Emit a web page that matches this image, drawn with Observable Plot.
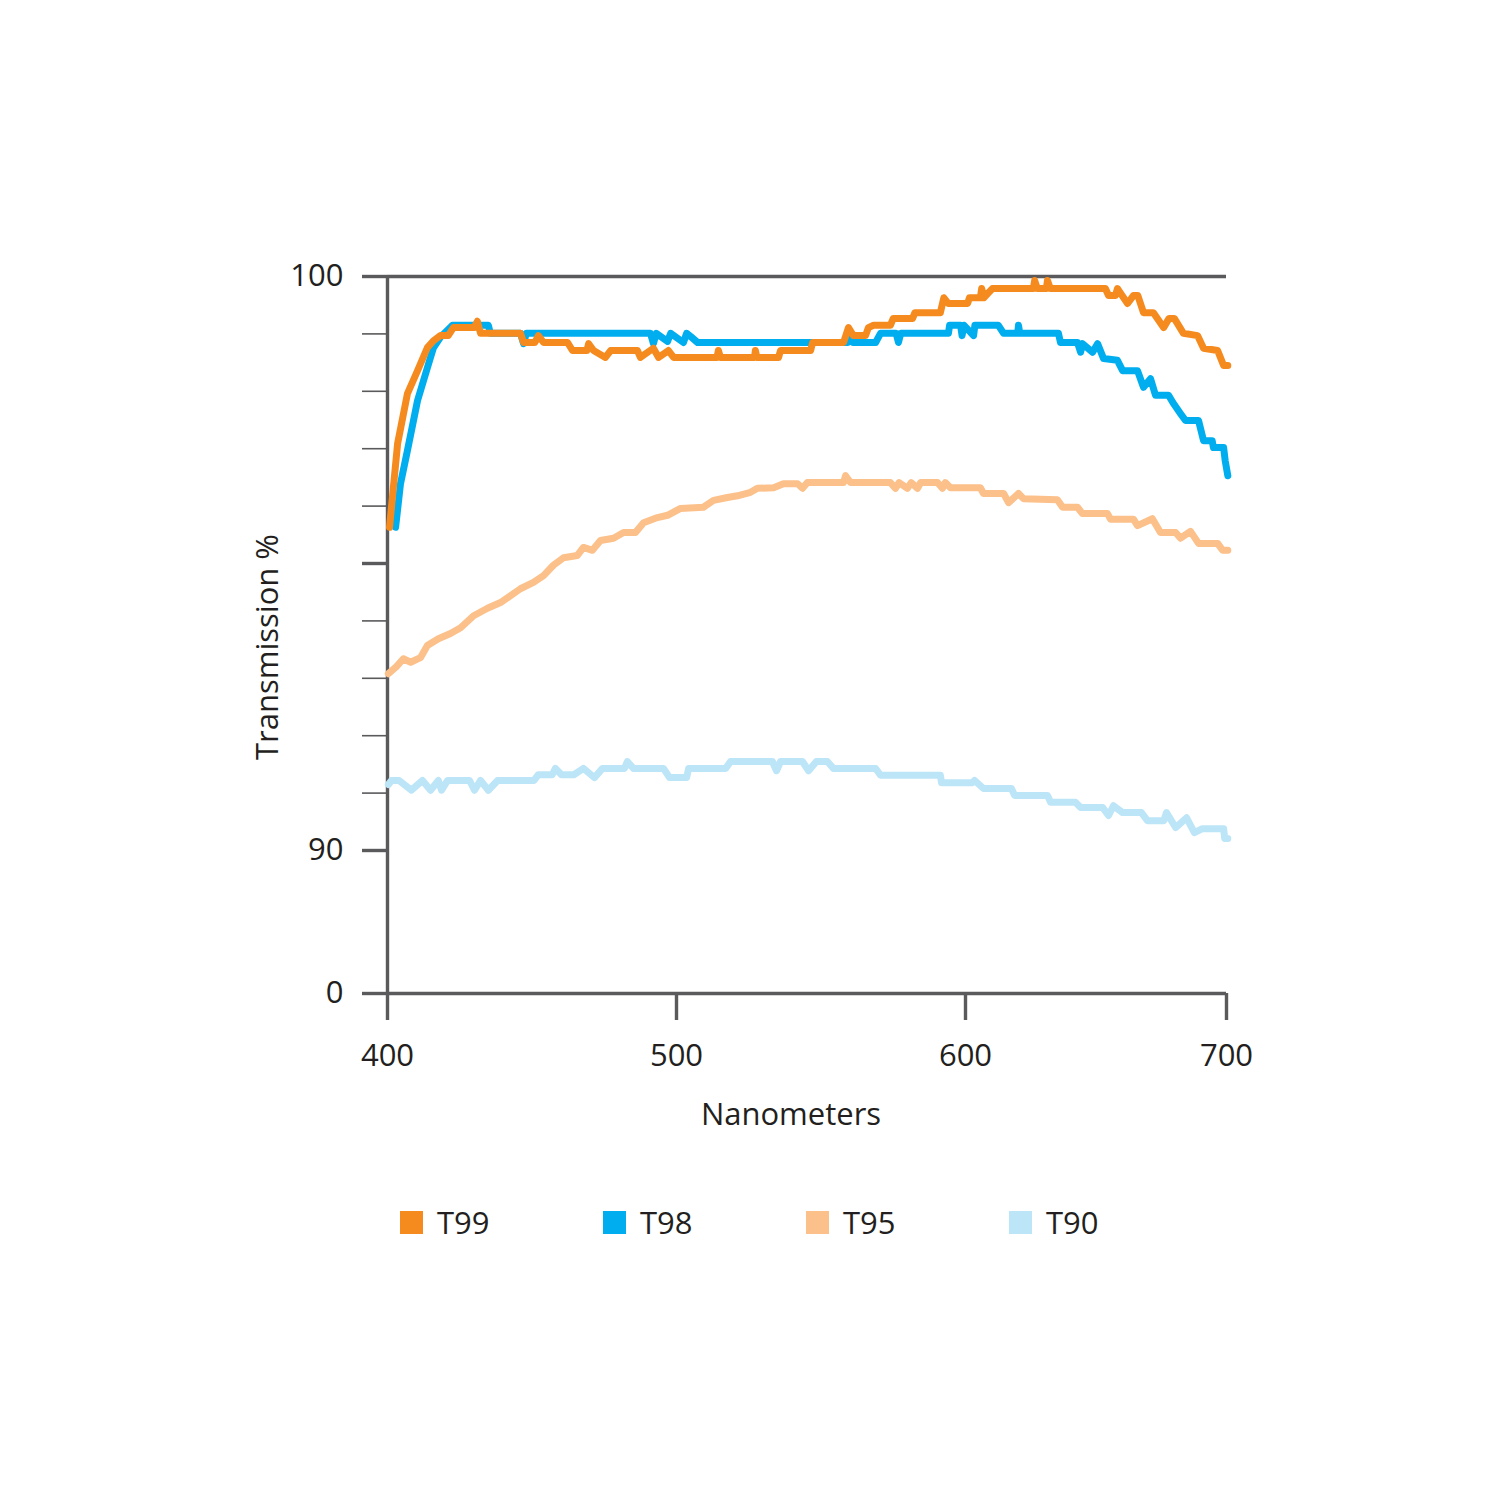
<!DOCTYPE html>
<html>
<head>
<meta charset="utf-8">
<script src="https://cdn.jsdelivr.net/npm/d3@7"></script>
<script src="https://cdn.jsdelivr.net/npm/@observablehq/plot@0.6"></script>
<style>
  html, body { margin: 0; padding: 0; background: #fff; }
  #chart svg { display: block; }
  #legend { display: flex; padding-left: 400px; height: 40px; align-items: center;
    font-family: "Open Sans", sans-serif; font-size: 31px; color: #231f20; }
  #legend .item { width: 203px; display: flex; align-items: center; }
  #legend .sw { width: 23px; height: 23px; margin-right: 14px; }
</style>
</head>
<body>
<div id="chart"></div>
<div id="legend"></div>
<script>
// ---- data (wavelength nm, transmission %) ----
const seriesNames = ["T99", "T98", "T95", "T90"];
const seriesColors = ["#f58b1f", "#00aeef", "#fcc08a", "#bde5f8"];

const t99 = [[400.7,95.63],[403.5,97.09],[406.9,97.96],[410.4,98.36],[413.8,98.76],[415.9,98.88],[418.3,98.97],[421.0,98.97],[422.8,99.11],[430.0,99.11],[431.1,99.22],[432.2,99.01],[446.0,99.01],[447.1,98.85],[451.0,98.85],[452.2,98.97],[454.0,98.85],[462.3,98.85],[464.0,98.71],[469.0,98.71],[469.6,98.83],[471.3,98.71],[475.4,98.59],[477.2,98.71],[486.5,98.71],[487.5,98.59],[492.0,98.75],[493.8,98.59],[497.2,98.71],[499.0,98.59],[514.0,98.59],[514.5,98.71],[515.2,98.59],[527.0,98.59],[527.3,98.71],[527.8,98.59],[535.3,98.59],[536.0,98.71],[546.4,98.71],[547.1,98.85],[557.8,98.85],[559.5,99.11],[561.2,98.97],[565.4,98.97],[566.4,99.11],[568.2,99.15],[574.0,99.15],[575.0,99.27],[581.7,99.27],[582.5,99.37],[591.3,99.37],[592.5,99.63],[594.0,99.53],[600.8,99.53],[601.5,99.63],[605.7,99.63],[606.2,99.79],[607.0,99.63],[610.3,99.79],[626.0,99.79],[626.5,99.93],[627.5,99.79],[631.0,99.79],[631.4,99.93],[632.5,99.79],[653.6,99.79],[654.8,99.67],[657.5,99.67],[658.2,99.79],[660.0,99.67],[662.1,99.53],[664.4,99.67],[666.0,99.67],[668.2,99.37],[672.0,99.37],[675.9,99.11],[678.0,99.27],[680.0,99.27],[683.5,99.01],[688.9,98.97],[691.2,98.75],[696.6,98.71],[698.9,98.45],[700.5,98.45]];

const t98 = [[402.8,95.63],[404.5,96.39],[406.9,96.97],[410.4,97.84],[413.8,98.41],[415.9,98.76],[418.3,98.94],[422.5,99.15],[434.9,99.15],[435.6,99.01],[446.0,99.01],[447.1,98.83],[448.0,99.01],[491.0,99.01],[492.0,98.83],[493.0,99.01],[496.9,98.87],[498.0,99.01],[502.4,98.85],[503.5,99.01],[505.0,98.95],[507.3,98.85],[559.2,98.85],[559.5,98.97],[561.0,98.85],[568.9,98.85],[570.6,99.01],[576.0,99.01],[576.8,98.85],[577.6,99.01],[594.1,99.01],[594.5,99.15],[598.3,99.15],[598.8,98.97],[599.5,99.15],[603.1,98.97],[603.6,99.15],[612.6,99.15],[614.6,99.01],[620.0,99.01],[620.3,99.15],[620.8,99.01],[635.6,99.01],[636.4,98.85],[642.9,98.85],[644.1,98.68],[644.8,98.83],[648.7,98.68],[650.6,98.83],[652.9,98.57],[658.2,98.54],[660.2,98.36],[665.9,98.36],[668.2,98.07],[670.9,98.22],[672.8,97.93],[677.8,97.93],[679.5,97.80],[682.4,97.61],[684.3,97.49],[689.3,97.49],[691.2,97.14],[694.5,97.14],[695.0,97.02],[698.9,97.02],[699.5,96.79],[700.5,96.53]];

const t95 = [[400.3,93.08],[403.0,93.20],[405.5,93.34],[408.0,93.28],[411.4,93.36],[413.8,93.57],[417.6,93.69],[421.8,93.78],[425.3,93.88],[429.8,94.09],[434.6,94.22],[439.1,94.32],[442.6,94.44],[446.0,94.56],[450.5,94.67],[454.0,94.79],[457.4,94.97],[460.9,95.10],[465.7,95.14],[467.8,95.28],[470.9,95.23],[473.7,95.40],[478.2,95.44],[481.7,95.54],[485.8,95.54],[488.6,95.71],[493.4,95.80],[496.9,95.84],[501.4,95.96],[509.3,95.98],[512.8,96.10],[517.6,96.15],[521.1,96.18],[525.6,96.24],[528.0,96.31],[533.6,96.32],[537.0,96.39],[541.9,96.39],[543.6,96.31],[545.3,96.41],[557.8,96.41],[558.5,96.53],[560.2,96.41],[574.0,96.41],[575.8,96.31],[577.0,96.41],[579.9,96.31],[581.2,96.41],[583.4,96.31],[584.5,96.41],[590.3,96.41],[592.0,96.31],[593.0,96.41],[594.8,96.32],[605.7,96.32],[606.9,96.22],[614.6,96.22],[616.5,96.06],[620.3,96.22],[622.2,96.13],[635.2,96.11],[637.2,95.98],[642.9,95.98],[644.8,95.87],[654.4,95.87],[655.6,95.77],[664.4,95.77],[665.9,95.66],[671.6,95.78],[674.7,95.54],[680.5,95.54],[682.4,95.44],[686.2,95.56],[689.3,95.35],[696.6,95.35],[698.5,95.23],[700.5,95.23]];

const t90 = [[400.3,91.15],[401.4,91.22],[404.0,91.22],[408.3,91.05],[412.1,91.22],[414.9,91.05],[417.6,91.22],[418.7,91.05],[420.8,91.22],[428.4,91.22],[430.1,91.05],[432.2,91.22],[434.9,91.05],[438.1,91.22],[450.7,91.22],[452.2,91.32],[457.0,91.32],[458.1,91.43],[460.2,91.32],[464.5,91.32],[467.8,91.43],[471.6,91.27],[474.4,91.43],[482.0,91.43],[483.0,91.55],[485.1,91.43],[495.5,91.43],[497.6,91.27],[503.5,91.27],[504.2,91.43],[517.0,91.43],[518.7,91.55],[533.2,91.55],[534.6,91.39],[536.0,91.55],[543.6,91.55],[545.7,91.39],[548.4,91.55],[552.2,91.55],[554.3,91.43],[568.9,91.43],[570.6,91.31],[591.3,91.31],[591.7,91.18],[602.7,91.18],[603.5,91.22],[606.9,91.08],[617.6,91.08],[618.8,90.96],[631.4,90.96],[632.6,90.84],[642.1,90.84],[644.1,90.75],[652.5,90.75],[654.8,90.61],[656.7,90.78],[660.2,90.66],[667.4,90.66],[669.7,90.52],[676.0,90.52],[677.0,90.66],[680.5,90.40],[684.7,90.57],[687.7,90.31],[690.8,90.38],[698.9,90.38],[699.3,90.21],[700.5,90.21]];

const xTicks = [400, 500, 600, 700];
const yMajorTicks = [0, 90, 95, 100];
const yMinorTicks = [91, 92, 93, 94, 96, 97, 98, 99];
const yLabelled = [0, 90, 100];
const xTitle = "Nanometers";
const yTitle = "Transmission %";

// ---- build table ----
const seriesData = [t99, t98, t95, t90];
const rows = [];
seriesData.forEach((arr, i) => arr.forEach(([nm, v]) => rows.push({series: seriesNames[i], nm, v})));
// draw back to front: T90, T95, T98, T99
const drawOrder = ["T90", "T95", "T98", "T99"];

const AXIS = "#5a5a5c";
const INK = "#231f20";
const W = 1500, H = 1202;

const plot = Plot.plot({
  width: W, height: H,
  marginLeft: 387, marginRight: 274, marginTop: 276, marginBottom: H - 993,
  x: {type: "linear", domain: xTicks, range: [387, 676, 965, 1226]},
  y: {type: "linear", domain: [0, 90, 100], range: [993, 850, 276]},
  color: {domain: seriesNames, range: seriesColors},
  style: {fontFamily: "'Open Sans', sans-serif", fontSize: "31px", color: INK, background: "#fff"},
  marks: [
    Plot.axisY(yMinorTicks, {tickSize: 25, stroke: AXIS, strokeWidth: 1.6, tickFormat: () => "", label: null}),
    Plot.axisY(yMajorTicks, {tickSize: 25, tickPadding: 19, stroke: AXIS, strokeWidth: 3.4, fill: INK, fontSize: 31,
      tickFormat: d => yLabelled.includes(d) ? String(d) : "", label: null}),
    Plot.axisX(xTicks, {tickSize: 27, tickPadding: 23, stroke: AXIS, strokeWidth: 3.4, fill: INK, fontSize: 31, label: null}),
    Plot.ruleY([0, 100], {x1: xTicks[0], x2: xTicks[xTicks.length - 1], stroke: AXIS, strokeWidth: 3.4}),
    Plot.ruleX([xTicks[0]], {y1: 0, y2: 100, stroke: AXIS, strokeWidth: 3.4}),
    ...drawOrder.map(name => Plot.line(rows.filter(r => r.series === name), {
      x: "nm", y: "v", stroke: "series", strokeWidth: 7, strokeLinejoin: "round", strokeLinecap: "round"
    })),
    Plot.text([xTitle], {text: d => d, frameAnchor: "bottom", lineAnchor: "middle", textAnchor: "middle",
      dy: 122, dx: -16, fontSize: 31, fill: INK}),
    Plot.text([yTitle], {text: d => d, frameAnchor: "left", textAnchor: "middle", lineAnchor: "middle",
      rotate: -90, dx: -119, dy: 12, fontSize: 31, fill: INK})
  ]
});
document.getElementById("chart").appendChild(plot);

const legend = d3.select("#legend");
seriesNames.forEach((name, i) => {
  const item = legend.append("div").attr("class", "item");
  item.append("div").attr("class", "sw").style("background", seriesColors[i]);
  item.append("span").text(name);
});
</script>
</body>
</html>
